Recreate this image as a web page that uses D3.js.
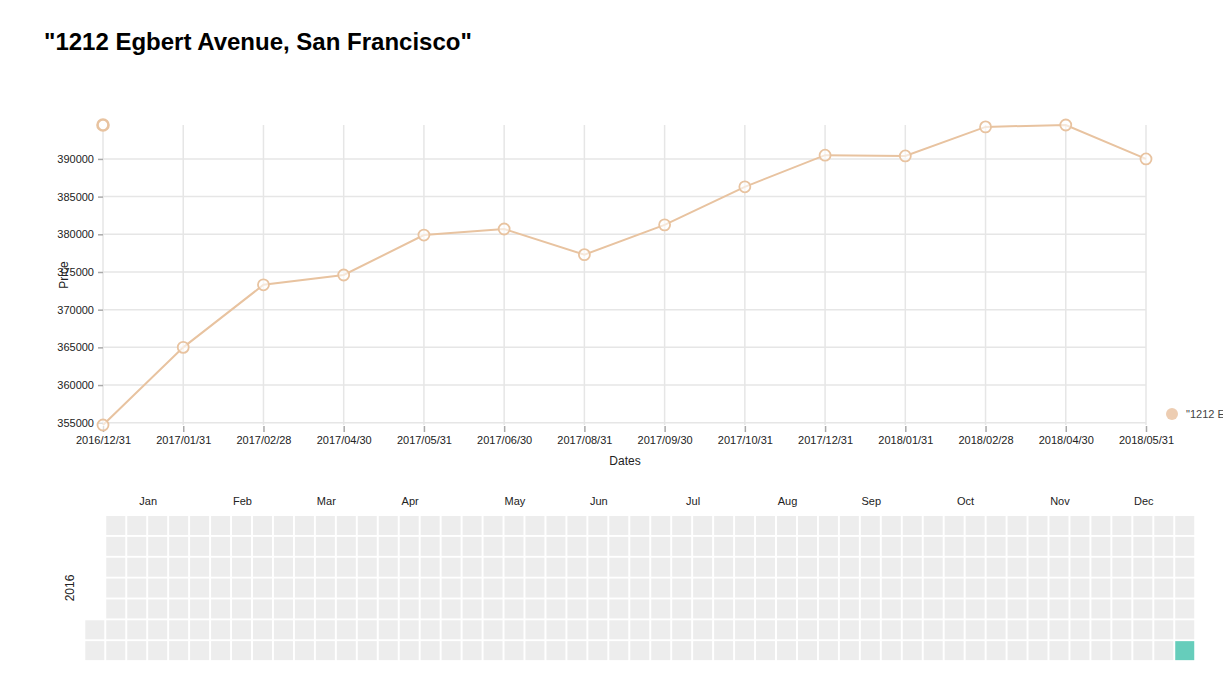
<!DOCTYPE html>
<html><head><meta charset="utf-8">
<script src="https://cdn.jsdelivr.net/npm/d3@7"></script>
<style>body{margin:0;background:#fff;font-family:"Liberation Sans",Arial,sans-serif;}</style>
</head><body>
<svg id="c" width="1223" height="673"></svg>
<script>
const title = '"1212 Egbert Avenue, San Francisco"';
const dates = ["2016/12/31","2017/01/31","2017/02/28","2017/04/30","2017/05/31","2017/06/30","2017/08/31","2017/09/30","2017/10/31","2017/12/31","2018/01/31","2018/02/28","2018/04/30","2018/05/31"];
const prices = [354700,365000,373300,374600,379900,380700,377300,381250,386300,390500,390400,394250,394500,390000];
const extraPoint = [{date:"2016/12/31", price:394500}];
const yTicks = [355000,360000,365000,370000,375000,380000,385000,390000];
const calYear = 2016;
const calData = [["2016-12-31", 1]];
const monthNames = ["Jan","Feb","Mar","Apr","May","Jun","Jul","Aug","Sep","Oct","Nov","Dec"];

const svg = d3.select("#c");
const lineColor = "#e8c3a0";
svg.append("text").attr("x",44).attr("y",50).attr("font-size",24).attr("font-weight","bold")
  .attr("fill","#000").text(title);

// line chart
const x = d3.scalePoint().domain(dates).range([103,1146]);
const y = d3.scaleLinear().domain([d3.min(prices), d3.max(prices)]).range([425,125]);
const g = svg.append("g");
g.selectAll("line.vg").data(dates).join("line").attr("class","vg")
  .attr("x1",d=>x(d)).attr("x2",d=>x(d)).attr("y1",125).attr("y2",425)
  .attr("stroke","#e6e6e6").attr("stroke-width",1.5);
g.selectAll("line.hg").data(yTicks).join("line").attr("class","hg")
  .attr("x1",103).attr("x2",1146).attr("y1",d=>y(d)).attr("y2",d=>y(d))
  .attr("stroke","#e6e6e6").attr("stroke-width",1.5);
const yAxis = g.append("g").attr("transform","translate(103,0)")
  .call(d3.axisLeft(y).tickValues(yTicks).tickSize(5).tickPadding(4).tickFormat(d3.format("d")));
yAxis.select(".domain").remove();
yAxis.selectAll("line").attr("stroke","#aaa").attr("stroke-width",1.5);
yAxis.selectAll("text").attr("font-size",11).attr("fill","#222").attr("font-family","Liberation Sans, Arial");
const xAxis = g.append("g").attr("transform","translate(0,426)")
  .call(d3.axisBottom(x).tickSize(6).tickPadding(4));
xAxis.select(".domain").remove();
xAxis.selectAll("line").attr("stroke","#aaa").attr("stroke-width",1.5);
xAxis.selectAll("text").attr("font-size",11).attr("fill","#222").attr("font-family","Liberation Sans, Arial");
g.append("text").attr("x",625).attr("y",465).attr("text-anchor","middle").attr("font-size",12).attr("fill","#222").text("Dates");
g.append("text").attr("transform","translate(68,275) rotate(-90)").attr("text-anchor","middle").attr("font-size",12).attr("fill","#222").text("Price");

const line = d3.line().x((d,i)=>x(dates[i])).y(d=>y(d));
g.append("path").datum(prices).attr("d",line).attr("fill","none").attr("stroke",lineColor).attr("stroke-width",2);
g.selectAll("circle.pt").data(prices).join("circle").attr("class","pt")
  .attr("cx",(d,i)=>x(dates[i])).attr("cy",d=>y(d)).attr("r",5.5)
  .attr("fill","#fff").attr("fill-opacity",0.6).attr("stroke",lineColor).attr("stroke-width",1.8);
g.selectAll("circle.ex").data(extraPoint).join("circle").attr("class","ex")
  .attr("cx",d=>x(d.date)).attr("cy",d=>y(d.price)).attr("r",5.5)
  .attr("fill","#fff").attr("stroke",lineColor).attr("stroke-width",2.6);

// legend
svg.append("circle").attr("cx",1172).attr("cy",414).attr("r",6).attr("fill","#edcdb2");
svg.append("text").attr("x",1186).attr("y",418).attr("font-size",11).attr("fill","#444").text(title);

// calendar
const start = new Date(calYear,0,1), end = new Date(calYear+1,0,1);
const days = d3.timeDays(start,end);
const colX = d3.scaleLinear().domain([0,53]).range([85.3,1196.2]);
const rowY = d3.scaleLinear().domain([0,7]).range([516,662]);
const valMap = new Map(calData.map(d=>[d[0],d[1]]));
const fmt = d3.timeFormat("%Y-%m-%d");
const cg = svg.append("g");
cg.selectAll("rect").data(days).join("rect")
  .attr("x",d=>colX(d3.timeWeek.count(start,d)))
  .attr("y",d=>rowY(d.getDay()))
  .attr("width",19).attr("height",19)
  .attr("fill",d=>valMap.has(fmt(d)) ? "#66cdbb" : "#ededed");
const months = d3.timeMonths(start,end);
cg.selectAll("text.m").data(months).join("text").attr("class","m")
  .attr("x",d=>{const last=new Date(d.getFullYear(),d.getMonth()+1,0);
    const c0=d3.timeWeek.count(start,d), c1=d3.timeWeek.count(start,last);
    return colX((c0+c1)/2+0.5);})
  .attr("y",505).attr("text-anchor","middle").attr("font-size",11).attr("fill","#222")
  .text(d=>monthNames[d.getMonth()]);
cg.append("text").attr("transform","translate(74,588) rotate(-90)").attr("text-anchor","middle")
  .attr("font-size",12).attr("fill","#222").text(String(calYear));
</script>
</body></html>
